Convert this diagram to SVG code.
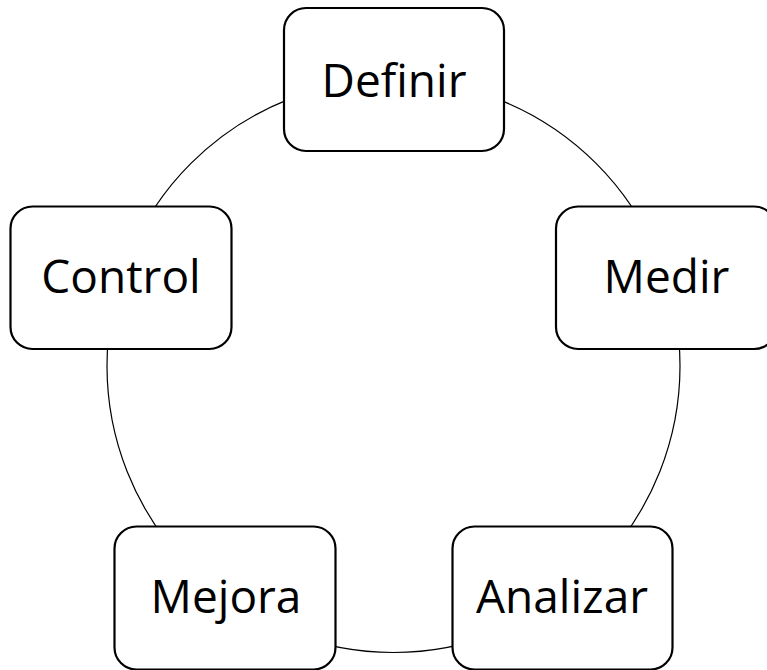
<svg xmlns="http://www.w3.org/2000/svg" width="767" height="670" viewBox="0 0 767 670">
<style>
.box{fill:#fff;stroke:#000;stroke-width:2.2}
.lbl{font-family:"Open Sans","Noto Sans","Liberation Sans",sans-serif;font-size:46px;fill:#000;text-anchor:middle}
.ring{fill:none;stroke:#000;stroke-width:1.2}
</style>
<rect width="767" height="670" fill="#fff"/>
<g id="connectors">
<circle class="ring" cx="393.5" cy="366" r="286.5"/>
</g>
<g id="definir">
<rect class="box" x="284" y="8" width="220" height="143" rx="22"/>
<text class="lbl" x="394" y="97">Definir</text>
</g>
<g id="medir">
<rect class="box" x="556" y="206.5" width="220" height="142.5" rx="22"/>
<text class="lbl" x="666.5" y="293">Medir</text>
</g>
<g id="analizar">
<rect class="box" x="452.5" y="526.5" width="220" height="143" rx="22"/>
<text class="lbl" x="562" y="613">Analizar</text>
</g>
<g id="mejora">
<rect class="box" x="114.5" y="526.5" width="221" height="143" rx="22"/>
<text class="lbl" x="226" y="613">Mejora</text>
</g>
<g id="control">
<rect class="box" x="10.5" y="206.5" width="221" height="142.5" rx="22"/>
<text class="lbl" x="121" y="293">Control</text>
</g>
</svg>
